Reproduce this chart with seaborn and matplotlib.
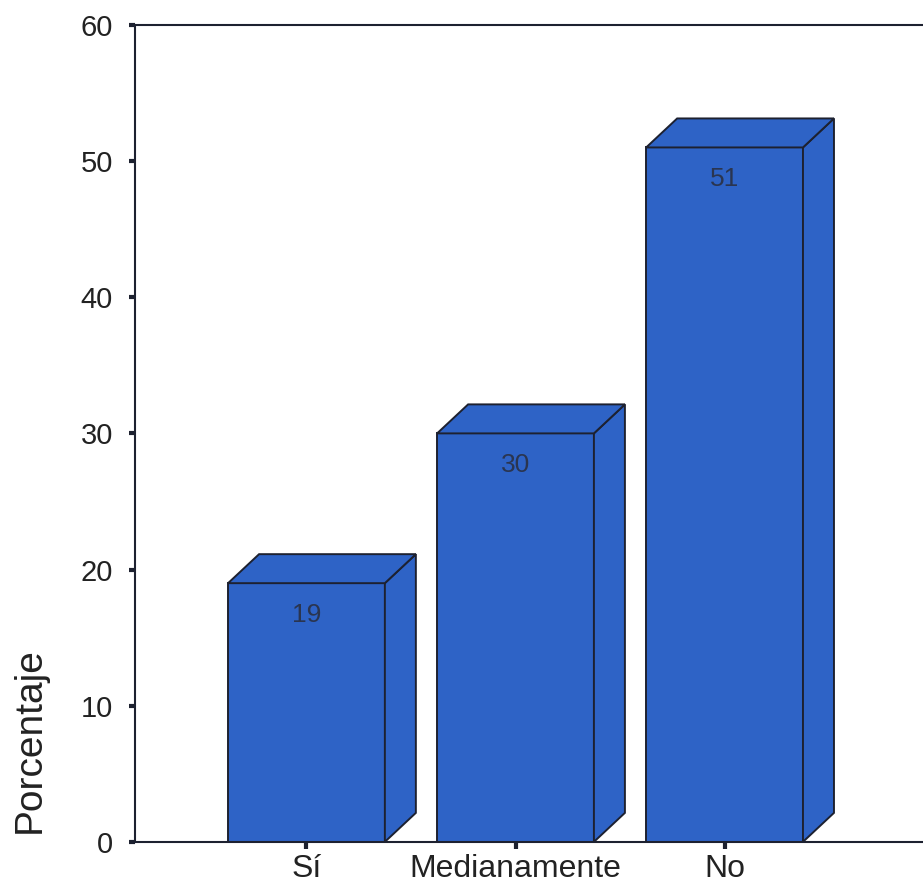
import matplotlib.pyplot as plt
import seaborn as sns
from matplotlib.patches import Polygon

# Data
categories = ["Sí", "Medianamente", "No"]
percentages = [19, 30, 51]
value_labels = ["19", "30", "51"]
y_ticks = [0, 10, 20, 30, 40, 50, 60]

sns.set_style("ticks")
plt.rcParams["font.family"] = ["Liberation Sans", "DejaVu Sans"]

bar_color = "#2e63c6"
edge_color = "#1d2130"

fig = plt.figure(figsize=(9.23, 8.89), dpi=100)
ax = fig.add_axes([0.1463, 0.053, 0.872, 0.919])

sns.barplot(x=categories, y=percentages, color=bar_color, saturation=1,
            edgecolor=edge_color, linewidth=1.4, width=0.75, ax=ax)

ax.set_xlim(-0.82, 3.03)
ax.set_ylim(0, 60)
ax.set_yticks(y_ticks)

# 3D look: side and top faces offset in pixels
inv = ax.transData.inverted()
origin = ax.transData.transform((0, 0))
ddx, ddy = inv.transform(origin + [31, 29]) - inv.transform(origin)

for bar, label in zip(ax.patches, value_labels):
    x0 = bar.get_x()
    x1 = x0 + bar.get_width()
    h = bar.get_height()
    side = Polygon([(x1, 0), (x1, h), (x1 + ddx, h + ddy), (x1 + ddx, ddy)],
                   closed=True, facecolor=bar_color, edgecolor=edge_color, linewidth=1.4)
    top = Polygon([(x0, h), (x1, h), (x1 + ddx, h + ddy), (x0 + ddx, h + ddy)],
                  closed=True, facecolor=bar_color, edgecolor=edge_color, linewidth=1.4)
    ax.add_patch(side)
    ax.add_patch(top)
    ax.annotate(label, (x0 + bar.get_width() / 2, h), xytext=(0, -14),
                textcoords="offset points", ha="center", va="top",
                fontsize=19, color="#2a3550")

for side_name in ["left", "bottom", "top"]:
    ax.spines[side_name].set_linewidth(1.5)
    ax.spines[side_name].set_color(edge_color)
ax.spines["right"].set_visible(False)

ax.tick_params(axis="y", length=4, width=3, direction="out", pad=12,
               labelsize=21, color=edge_color, labelcolor="#222222")
ax.tick_params(axis="x", length=5, width=3, direction="out", pad=4,
               labelsize=23, color=edge_color, labelcolor="#222222")

ax.set_xlabel("")
ax.set_ylabel("Porcentaje", fontsize=28, color="#222222")
ax.yaxis.set_label_coords(-0.108, 0.125)

fig.savefig("out.png", dpi=100)
